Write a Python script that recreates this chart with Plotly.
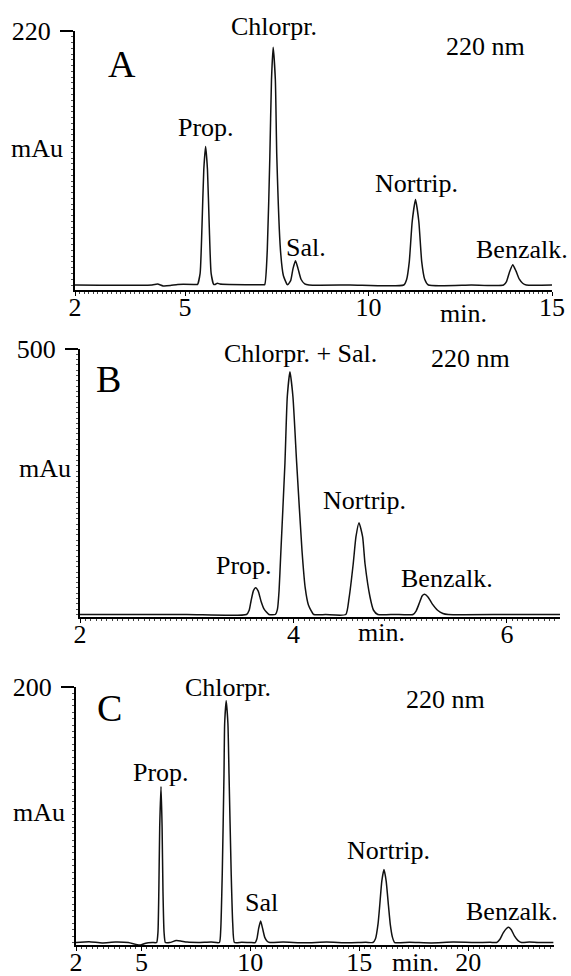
import plotly.graph_objects as go

W, H = 571, 976
FONT = "Liberation Serif"

# ---- chromatogram A (retention time in min, absorbance in mAu) ----
time_a = [2.0, 4.1, 4.25, 4.4, 4.6, 4.8, 5.3,
          5.34, 5.41, 5.46, 5.51, 5.56, 5.61, 5.66, 5.71, 5.78,
          5.82, 5.88, 5.95, 6.2, 7.1,
          7.17, 7.24, 7.31, 7.355, 7.40, 7.46, 7.50, 7.60, 7.68, 7.78,
          7.80, 7.88, 7.94, 8.01, 8.08, 8.16, 8.26, 8.38,
          9.5, 10.96, 11.04, 11.11, 11.19, 11.28, 11.37, 11.45, 11.53, 11.63,
          12.8, 13.68, 13.76, 13.84, 13.93, 14.02, 14.11, 14.20, 14.30, 15.0]
mau_a = [0, 0, 0.8, -0.8, -0.5, 0.5, 0.5,
         0.5, 10, 50, 100, 120, 100, 50, 10, 0.5,
         0.5, 1.6, 0.8, 0.4, 0.3,
         0.3, 30, 111, 178, 206, 178, 111, 30, 8, 0.5,
         0.3, 4, 14, 21, 14, 5, 1, 0,
         0, 0, 5, 20, 55, 74, 55, 20, 5, 0,
         0, 0, 3, 11, 17.5, 12, 5, 1.5, 0, 0]

# ---- chromatogram B ----
time_b = [2.0, 3.0, 3.56, 3.585, 3.602, 3.625, 3.646, 3.67, 3.696, 3.725, 3.77,
          3.83, 3.85, 3.865, 3.88, 3.92, 3.942, 3.967, 3.995, 4.03, 4.08, 4.11, 4.14, 4.19,
          4.3, 4.49, 4.52, 4.56, 4.585, 4.614, 4.648, 4.67, 4.717, 4.75, 4.79,
          4.95, 5.12, 5.15, 5.18, 5.205, 5.228, 5.26, 5.30, 5.35, 5.40, 5.45, 6.0, 6.5]
mau_b = [0, 0, 0, 8, 25, 45, 50.5, 44, 25, 10, 0,
         0, 10, 45, 110, 285, 410, 457, 410, 285, 120, 50, 18, 0,
         0, 0, 30, 96, 146, 173, 146, 96, 33, 8, 0,
         0, 0, 7, 22, 35, 38, 33, 20, 8, 2, 0, 0, 0]

# ---- chromatogram C ----
time_c = [2.0, 2.6, 3.2, 3.8, 4.4, 4.75, 4.95, 5.2, 5.5,
          5.70, 5.76, 5.80, 5.84, 5.90, 5.95, 5.99, 6.04, 6.10,
          6.3, 6.6, 6.8, 7.1, 7.6, 8.2,
          8.58, 8.64, 8.71, 8.79, 8.82, 8.89, 8.97, 9.02, 9.12, 9.19, 9.27,
          9.6, 10.0,
          10.22, 10.30, 10.38, 10.47, 10.56, 10.66, 10.77, 10.90,
          11.5, 12.5, 13.5, 14.5, 15.3,
          15.62, 15.74, 15.86, 15.93, 16.03, 16.13, 16.23, 16.34, 16.42, 16.52, 16.62,
          17.3, 18.3, 19.3, 20.3, 21.0,
          21.30, 21.45, 21.60, 21.75, 21.85, 21.97, 22.12, 22.28, 22.44,
          22.8, 23.2, 23.9]
mau_c = [0, 0.5, -0.3, 0.4, 0, -1.5, -2, -0.5, 0,
         0, 8, 40, 90, 122, 90, 40, 8, 0,
         0, 1.5, 1.2, 0.3, 0, 0.4,
         0, 10, 54, 132, 171, 189, 171, 132, 54, 15, 0,
         0.2, 0,
         0, 3, 11, 16.8, 11, 4, 1, 0,
         0.3, -0.2, 0.3, -0.2, 0.2,
         0, 3, 15, 28, 48, 57, 48, 28, 14, 4, 0,
         0.2, -0.3, 0.3, 0, 0.2,
         0, 2.5, 7.5, 11, 12, 10, 5, 1.5, 0,
         0.3, 0, 0]

# axis settings per panel
x_ticks_a = [2, 5, 10, 15]
x_ticks_b = [2, 4, 6]
x_ticks_c = [2, 5, 10, 15, 20]
y_top_a, y_top_b, y_top_c = 220, 500, 200


def px(x):
    return x / W


def py(y):
    return 1 - y / H


fig = go.Figure()
for t, v, xa, ya in [(time_a, mau_a, "x", "y"),
                     (time_b, mau_b, "x2", "y2"),
                     (time_c, mau_c, "x3", "y3")]:
    fig.add_trace(go.Scatter(x=t, y=v, xaxis=xa, yaxis=ya, mode="lines",
                             line=dict(color="#111111", width=1.5, shape="spline",
                                       smoothing=0.5),
                             showlegend=False, hoverinfo="skip"))

tickfont = dict(family=FONT, size=26, color="black")


def xaxis(dom, rng, vals, minor_dt, anchor):
    return dict(domain=dom, range=rng, tickvals=vals, ticktext=[str(v) for v in vals],
                showline=True, linewidth=2, linecolor="black", showgrid=False,
                zeroline=False, ticks="outside", ticklen=4, tickwidth=1,
                tickcolor="black", tickfont=tickfont, anchor=anchor,
                automargin=False, ticklabelstandoff=-11,
                minor=dict(ticks="outside", ticklen=2, tickwidth=1, dtick=minor_dt,
                           tick0=2, tickcolor="#444", showgrid=False))


def yaxis(dom, rng, top, minor_dt, anchor):
    return dict(domain=dom, range=rng, tickvals=[top], ticktext=[str(top)],
                showline=True, linewidth=2, linecolor="black", showgrid=False,
                zeroline=False, ticks="outside", ticklen=13, tickwidth=1.5,
                tickcolor="black", tickfont=tickfont, anchor=anchor,
                ticklabelstandoff=4, automargin=False,
                minor=dict(ticks="outside", ticklen=2, tickwidth=1, dtick=minor_dt,
                           tick0=0, tickcolor="#555", showgrid=False))


fig.update_layout(
    width=W, height=H, margin=dict(l=0, r=0, t=0, b=0, autoexpand=False),
    paper_bgcolor="white", plot_bgcolor="white",
    xaxis=xaxis([px(75), px(552)], [2, 15], x_ticks_a, 0.125, "y"),
    xaxis2=xaxis([px(80), px(560)], [2, 6.497], x_ticks_b, 0.05, "y2"),
    xaxis3=xaxis([px(76), px(554)], [2, 23.93], x_ticks_c, 0.25, "y3"),
    yaxis=yaxis([py(290), py(31)], [-4.33, y_top_a], y_top_a, 5, "x"),
    yaxis2=yaxis([py(616.5), py(349)], [-3.77, y_top_b], y_top_b, 10, "x2"),
    yaxis3=yaxis([py(945), py(686.7)], [-1.95, y_top_c], y_top_c, 5, "x3"),
)

labels = [
    # panel A
    ("A", 122, 64, 38), ("Chlorpr.", 274, 26, 26), ("220 nm", 485, 47, 26),
    ("mAu", 37, 148, 26), ("Prop.", 206, 127, 26), ("Sal.", 306, 248, 26),
    ("Nortrip.", 416, 183, 26), ("Benzalk.", 522, 249, 26), ("min.", 463, 313, 26),
    # panel B
    ("B", 108, 379, 38), ("Chlorpr. + Sal.", 300, 353, 26), ("220 nm", 470, 358, 26),
    ("mAu", 45, 468, 26), ("Prop.", 244, 565, 26), ("Nortrip.", 364, 501, 26),
    ("Benzalk.", 447, 578, 26), ("min.", 381, 632, 26),
    # panel C
    ("C", 109, 708, 38), ("Chlorpr.", 228, 687, 26), ("220 nm", 445, 699, 26),
    ("mAu", 39, 812, 26), ("Prop.", 161, 772, 26), ("Sal", 261, 902, 26),
    ("Nortrip.", 388, 850, 26), ("Benzalk.", 512, 911, 26), ("min.", 415, 962, 26),
]
for text, x, y, size in labels:
    fig.add_annotation(text=text, x=px(x), y=py(y), xref="paper", yref="paper",
                       xanchor="center", yanchor="middle", showarrow=False,
                       font=dict(family=FONT, size=size, color="black"))

fig.write_html("out.html")
